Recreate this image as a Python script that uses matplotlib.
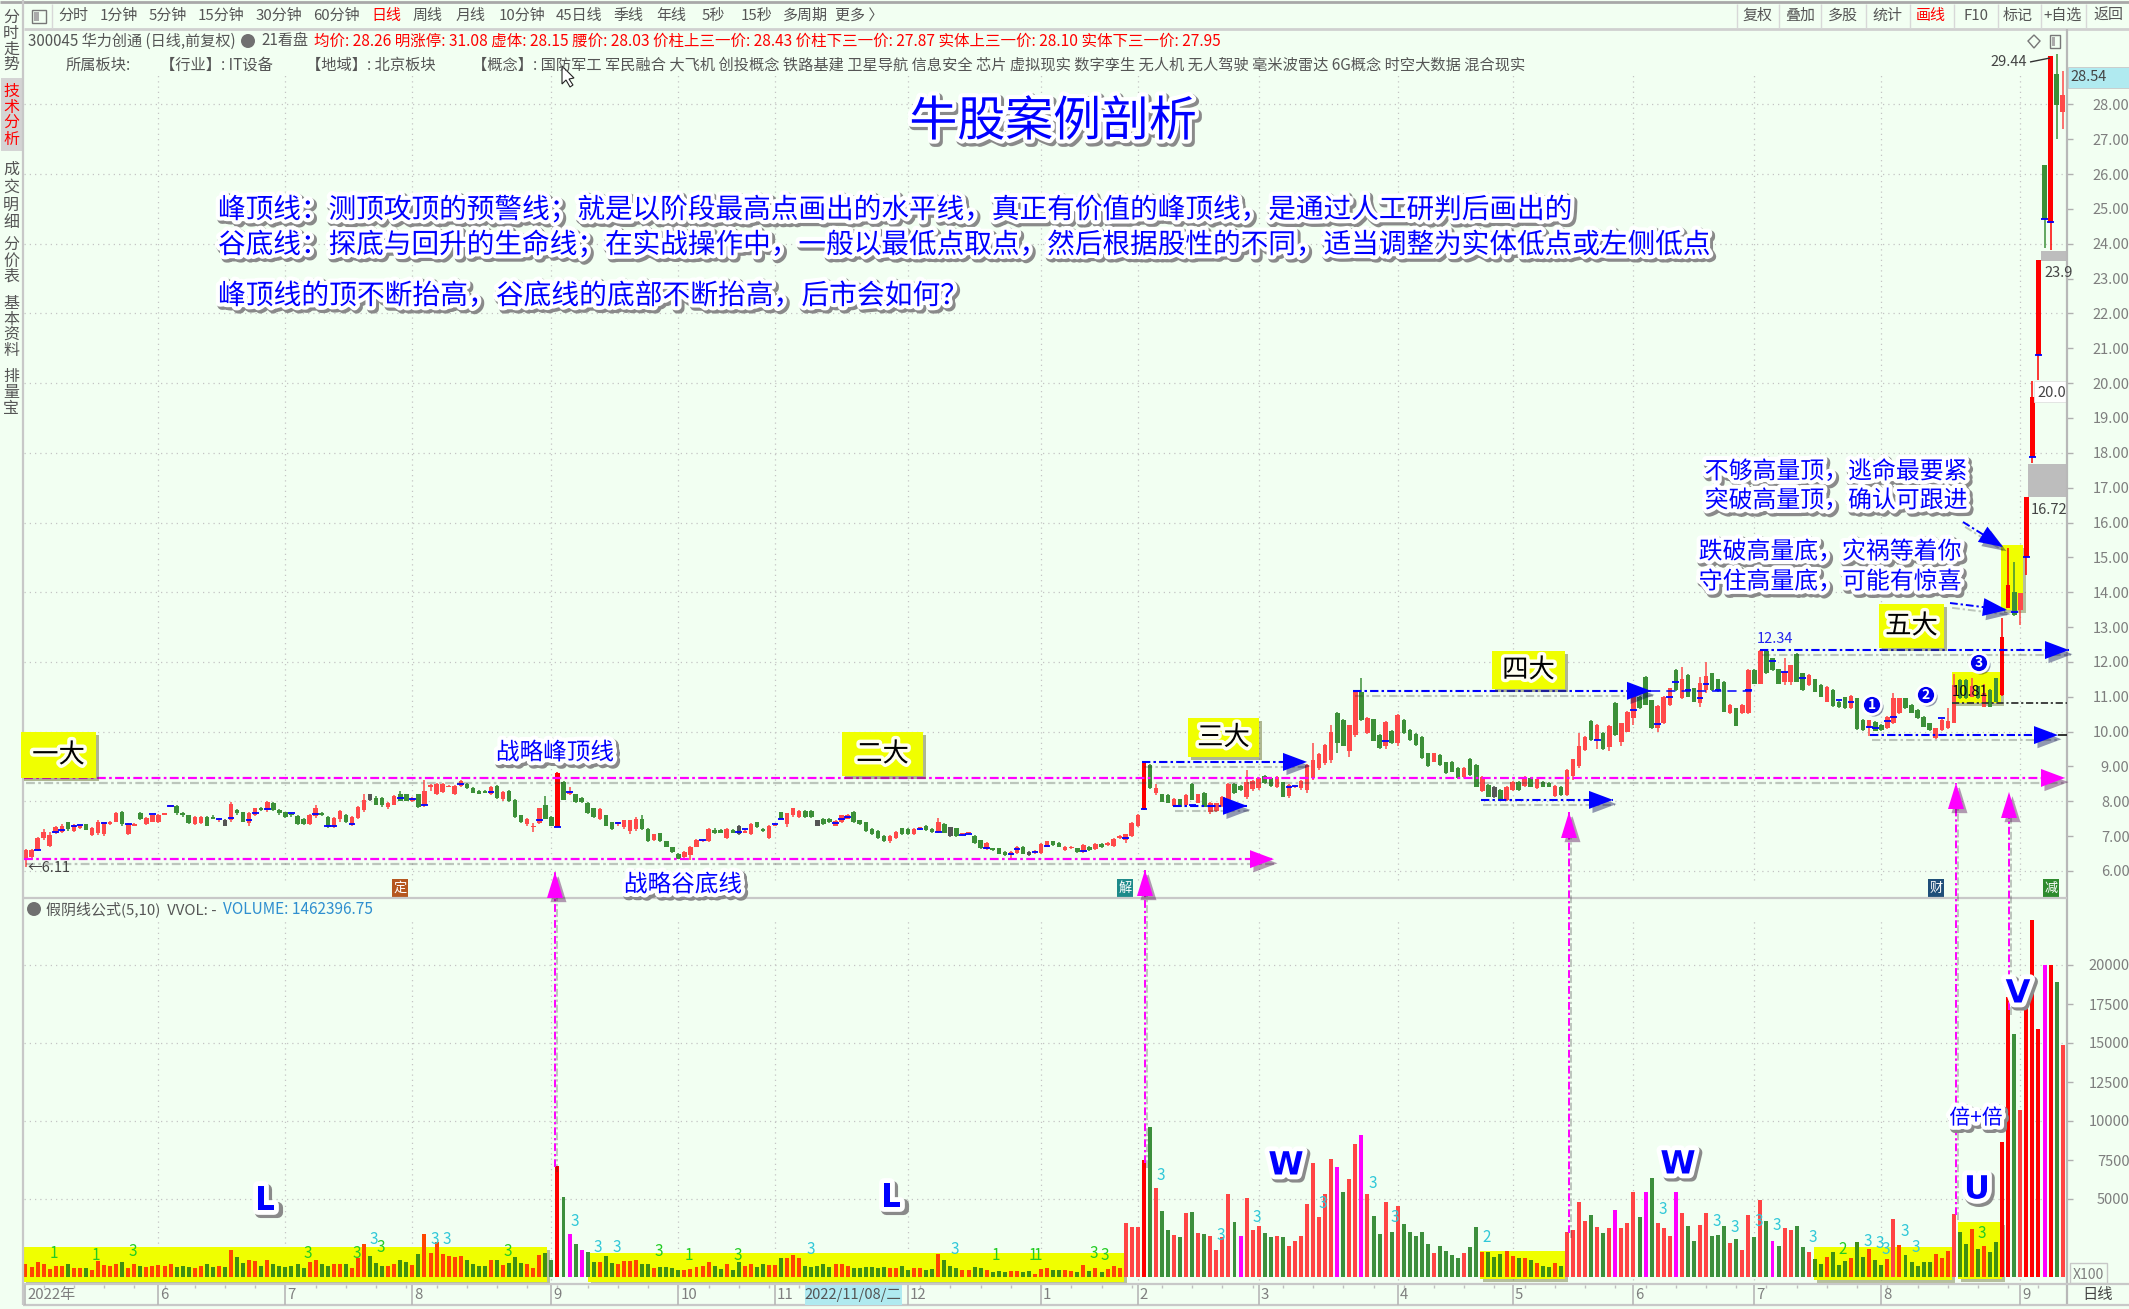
import matplotlib
matplotlib.use("Agg")
import matplotlib.pyplot as plt
import matplotlib.patheffects as pe
from matplotlib.patches import Rectangle, Polygon, Circle

plt.rcParams['font.family'] = ['Noto Sans CJK SC', 'DejaVu Sans']

# ---- daily candles (open, high, low, close), one small list per month
ohlc_2022_05 = [(6.36,6.62,6.11,6.60),(6.40,6.62,6.35,6.60),(6.60,6.97,6.58,6.94),(6.95,7.20,6.90,7.13),(6.72,7.12,6.70,7.03),(7.08,7.30,7.05,7.27),(7.12,7.35,7.08,7.30),(7.40,7.42,7.15,7.20),(7.15,7.34,7.13,7.32),(7.22,7.33,7.20,7.32),(7.35,7.36,7.18,7.19),(7.03,7.25,7.00,7.22),(7.10,7.45,7.02,7.42),(7.05,7.42,7.00,7.40),(7.35,7.44,7.33,7.42),(7.42,7.68,7.40,7.66),(7.70,7.72,7.30,7.36),(7.05,7.37,7.03,7.35),(7.30,7.38,7.28,7.36),(7.66,7.68,7.46,7.48),(7.35,7.54,7.33,7.52),(7.42,7.62,7.40,7.60)]
ohlc_2022_06 = [(7.40,7.64,7.38,7.62),(7.62,7.66,7.60,7.64),(7.85,7.88,7.83,7.86),(7.86,7.88,7.62,7.65),(7.65,7.68,7.55,7.60),(7.60,7.62,7.36,7.38),(7.36,7.58,7.32,7.56),(7.38,7.58,7.34,7.56),(7.55,7.58,7.28,7.30),(7.55,7.62,7.48,7.50),(7.47,7.52,7.40,7.50),(7.45,7.48,7.28,7.30),(7.47,7.98,7.42,7.92),(7.75,7.78,7.62,7.65),(7.68,7.70,7.40,7.42),(7.38,7.68,7.30,7.66),(7.62,7.82,7.58,7.80),(7.82,7.84,7.72,7.75),(7.76,8.00,7.70,7.98),(7.95,7.97,7.73,7.75),(7.75,7.78,7.62,7.65)]
ohlc_2022_07 = [(7.68,7.70,7.52,7.55),(7.62,7.65,7.55,7.60),(7.58,7.60,7.33,7.35),(7.50,7.52,7.33,7.35),(7.35,7.64,7.33,7.62),(7.58,7.90,7.52,7.82),(7.66,7.68,7.58,7.60),(7.55,7.57,7.22,7.25),(7.25,7.54,7.22,7.52),(7.50,7.76,7.42,7.72),(7.62,7.64,7.38,7.40),(7.33,7.57,7.28,7.55),(7.52,7.87,7.50,7.85),(7.76,8.20,7.70,8.05),(8.20,8.22,8.00,8.03),(8.10,8.15,7.88,7.90),(8.10,8.12,7.85,7.90),(7.85,7.97,7.78,7.95),(7.90,8.17,7.88,8.15),(8.20,8.30,8.00,8.02),(8.20,8.22,8.00,8.02)]
ohlc_2022_08 = [(8.00,8.12,7.98,8.10),(8.20,8.22,7.82,7.85),(7.90,8.60,7.85,8.30),(8.42,8.50,8.30,8.48),(8.22,8.52,8.18,8.50),(8.28,8.52,8.25,8.50),(8.42,8.47,8.40,8.45),(8.22,8.47,8.18,8.45),(8.45,8.62,8.42,8.58),(8.50,8.52,8.36,8.38),(8.38,8.40,8.23,8.25),(8.30,8.32,8.20,8.22),(8.30,8.32,8.23,8.25),(8.22,8.44,8.18,8.42),(8.45,8.47,8.08,8.10),(8.08,8.29,8.00,8.27),(8.30,8.32,7.98,8.00),(8.05,8.07,7.53,7.55),(7.60,7.62,7.38,7.40),(7.35,7.52,7.30,7.50),(7.25,7.38,7.12,7.30),(7.38,7.82,7.35,7.80),(7.90,8.15,7.48,7.50)]
ohlc_2022_09 = [(7.55,7.57,7.28,7.30),(7.27,8.83,7.25,8.80),(8.55,8.57,8.03,8.05),(8.22,8.40,8.18,8.25),(8.20,8.22,7.96,7.98),(8.10,8.12,7.96,7.98),(7.95,7.97,7.63,7.65),(7.80,7.82,7.53,7.55),(7.50,7.80,7.45,7.78),(7.60,7.62,7.28,7.30),(7.40,7.42,7.18,7.20),(7.35,7.42,7.30,7.40),(7.25,7.47,7.20,7.45),(7.15,7.47,7.05,7.45),(7.20,7.56,7.15,7.50),(7.50,7.60,7.18,7.20),(7.20,7.22,6.83,6.85),(6.90,7.07,6.85,7.05),(7.08,7.10,6.83,6.85),(6.85,6.87,6.68,6.70),(6.68,6.70,6.53,6.55)]
ohlc_2022_10 = [(6.50,6.52,6.33,6.35),(6.40,6.57,6.35,6.55),(6.45,6.72,6.32,6.70),(6.70,6.92,6.68,6.90),(6.85,6.90,6.83,6.88),(6.85,7.22,6.83,7.20),(7.18,7.22,7.06,7.08),(7.18,7.20,7.08,7.10),(6.95,7.22,6.92,7.20),(7.18,7.20,7.08,7.10),(7.30,7.32,7.03,7.05),(7.10,7.20,7.08,7.15),(7.05,7.37,7.02,7.35),(7.40,7.42,7.23,7.25),(7.20,7.24,7.13,7.15),(6.95,7.32,6.92,7.30)]
ohlc_2022_11 = [(7.30,7.37,7.28,7.33),(7.68,7.70,7.48,7.50),(7.35,7.67,7.25,7.65),(7.60,7.82,7.55,7.80),(7.55,7.74,7.52,7.72),(7.72,7.75,7.53,7.55),(7.72,7.75,7.53,7.55),(7.45,7.47,7.28,7.30),(7.50,7.52,7.33,7.35),(7.50,7.52,7.38,7.40),(7.30,7.45,7.28,7.43),(7.40,7.62,7.38,7.60),(7.50,7.64,7.48,7.60),(7.70,7.72,7.38,7.40),(7.45,7.47,7.33,7.35),(7.40,7.42,7.13,7.15),(7.20,7.22,7.03,7.05),(7.15,7.17,6.93,6.95),(7.00,7.02,6.83,6.85),(6.85,7.02,6.80,7.00),(6.95,7.14,6.93,7.12),(7.22,7.24,7.03,7.05)]
ohlc_2022_12 = [(7.20,7.22,7.03,7.05),(7.05,7.22,7.03,7.20),(7.22,7.27,7.18,7.25),(7.30,7.32,7.16,7.18),(7.20,7.22,7.10,7.12),(7.13,7.52,7.10,7.40),(7.35,7.37,7.08,7.10),(7.25,7.27,6.98,7.00),(7.22,7.24,6.98,7.00),(7.05,7.10,7.03,7.08),(7.08,7.12,7.06,7.10),(7.00,7.02,6.78,6.80),(6.88,6.90,6.63,6.65),(6.63,6.82,6.61,6.80),(6.65,6.67,6.58,6.60),(6.65,6.67,6.48,6.50),(6.55,6.57,6.43,6.45),(6.45,6.57,6.38,6.55),(6.52,6.72,6.50,6.70),(6.70,6.72,6.48,6.50),(6.55,6.57,6.43,6.45),(6.55,6.60,6.50,6.57)]
ohlc_2023_01 = [(6.52,6.80,6.50,6.78),(6.70,6.87,6.68,6.85),(6.85,6.87,6.73,6.75),(6.80,6.82,6.68,6.70),(6.60,6.72,6.58,6.70),(6.65,6.72,6.63,6.70),(6.65,6.67,6.53,6.55),(6.55,6.77,6.53,6.75),(6.70,6.72,6.58,6.60),(6.62,6.80,6.60,6.78),(6.78,6.80,6.66,6.68),(6.75,6.82,6.73,6.80),(6.72,6.94,6.70,6.92),(6.95,7.02,6.93,7.00),(6.90,7.07,6.80,7.05),(7.00,7.40,6.98,7.38)]
ohlc_2023_02 = [(7.28,7.64,7.26,7.62),(7.78,9.09,7.76,9.09),(9.04,9.06,8.35,8.37),(8.23,8.50,8.18,8.37),(8.20,8.22,7.97,7.99),(8.18,8.20,7.94,7.96),(7.87,8.09,7.85,8.07),(8.06,8.08,7.83,7.85),(7.89,8.20,7.87,8.18),(8.50,8.52,8.03,8.05),(7.96,8.22,7.94,8.20),(8.25,8.27,7.83,7.85),(7.70,7.99,7.63,7.95),(7.73,7.96,7.68,7.94),(7.87,8.15,7.85,8.13),(7.99,8.52,7.97,8.50),(8.50,8.52,8.21,8.23),(8.45,8.47,8.30,8.33),(8.13,8.90,8.08,8.56),(8.34,8.61,8.30,8.59)]
ohlc_2023_03 = [(8.37,8.68,8.32,8.66),(8.73,8.75,8.50,8.52),(8.66,8.68,8.42,8.44),(8.42,8.72,8.38,8.70),(8.54,8.56,8.11,8.13),(8.15,8.49,8.10,8.47),(8.40,8.45,8.38,8.43),(8.37,8.61,8.33,8.59),(8.32,9.06,8.25,9.04),(8.66,9.68,8.60,9.19),(8.95,9.38,8.90,9.36),(9.09,9.63,9.05,9.61),(9.18,10.19,9.10,10.00),(10.54,10.56,9.40,9.66),(10.33,10.35,9.58,9.60),(9.45,10.19,9.28,10.19),(9.90,11.15,9.85,11.15),(11.15,11.55,10.31,10.33),(9.95,10.42,9.93,10.40),(10.35,10.37,9.72,9.74),(9.90,9.92,9.50,9.52),(9.59,10.30,9.50,10.28),(10.03,10.05,9.64,9.66)]
ohlc_2023_04 = [(9.66,10.50,9.60,10.48),(10.33,10.35,9.93,9.95),(10.05,10.07,9.74,9.76),(9.93,9.95,9.60,9.62),(9.85,9.87,9.21,9.23),(9.38,9.40,8.99,9.01),(9.14,9.40,9.12,9.38),(9.33,9.35,9.02,9.04),(9.12,9.14,8.78,8.80),(9.14,9.16,8.83,8.85),(8.95,8.97,8.64,8.66),(8.70,8.97,8.68,8.95),(9.21,9.23,8.73,8.75),(9.04,9.06,8.40,8.42),(8.30,8.72,8.28,8.70),(8.47,8.49,8.11,8.13),(8.42,8.44,8.09,8.11),(8.32,8.34,8.02,8.04),(8.04,8.44,8.02,8.42)]
ohlc_2023_05 = [(8.32,8.58,8.30,8.56),(8.56,8.58,8.30,8.32),(8.44,8.72,8.42,8.70),(8.68,8.70,8.40,8.42),(8.37,8.65,8.35,8.63),(8.56,8.58,8.40,8.42),(8.52,8.54,8.40,8.42),(8.15,8.46,8.13,8.44),(8.42,8.44,8.16,8.18),(8.18,8.92,8.15,8.90),(8.73,9.22,8.60,9.20),(9.01,9.97,8.95,9.60),(9.47,9.86,9.45,9.84),(10.30,10.32,9.74,9.76),(9.76,10.21,9.50,10.19),(9.97,9.99,9.47,9.49),(9.57,10.18,9.45,10.16),(10.83,10.85,9.88,9.90),(9.71,10.26,9.60,10.24),(10.00,10.59,9.98,10.57)]
ohlc_2023_06 = [(10.38,11.12,10.20,11.10),(11.00,11.02,10.65,10.67),(11.58,11.60,10.75,10.77),(10.90,10.92,10.07,10.09),(10.09,10.75,10.00,10.73),(10.24,11.02,10.22,11.00),(10.76,11.26,10.74,11.24),(11.77,11.79,11.17,11.19),(10.95,11.86,10.93,11.50),(11.62,11.64,10.98,11.00),(11.24,11.26,10.84,10.86),(10.81,11.58,10.70,11.40),(11.20,12.00,11.10,11.60),(11.67,11.69,11.17,11.19),(11.50,11.52,11.15,11.18),(11.43,11.45,10.55,10.57),(10.52,10.78,10.50,10.76),(10.67,10.69,10.15,10.17),(10.52,10.78,10.50,10.76),(10.52,11.79,10.50,11.77)]
ohlc_2023_07 = [(11.77,11.79,11.36,11.38),(11.38,12.34,11.36,12.30),(12.30,12.34,11.65,11.67),(12.10,12.12,11.75,11.77),(11.79,11.81,11.36,11.38),(11.43,12.12,11.35,11.70),(11.43,11.92,11.35,11.90),(12.23,12.25,11.41,11.43),(11.67,11.69,11.17,11.19),(11.34,11.64,11.32,11.62),(11.50,11.52,11.13,11.15),(11.34,11.36,10.98,11.00),(10.86,11.31,10.84,11.29),(11.19,11.21,10.72,10.74),(10.86,10.88,10.69,10.71),(10.98,11.00,10.65,10.67),(10.67,11.04,10.65,11.02),(10.95,10.97,10.05,10.07),(10.33,10.35,10.03,10.05),(10.09,10.33,9.87,10.33),(10.28,10.30,10.01,10.03)]
ohlc_2023_08 = [(10.20,10.22,10.03,10.05),(10.09,10.45,10.07,10.43),(10.24,11.10,10.22,10.95),(10.52,10.97,10.50,10.95),(10.95,10.97,10.65,10.67),(10.76,10.78,10.52,10.54),(10.62,10.64,10.36,10.38),(10.43,10.45,10.12,10.14),(10.24,10.26,10.03,10.05),(9.81,10.11,9.79,10.09),(10.05,10.35,10.03,10.33),(10.09,10.69,10.07,10.30),(10.26,11.64,10.24,11.35),(11.48,11.50,10.93,10.95),(11.48,11.50,10.93,10.95),(11.00,11.55,10.98,11.30),(11.30,11.32,10.93,10.95),(10.72,11.36,10.70,11.10),(11.19,11.21,10.70,10.72),(11.53,11.55,10.84,10.86),(11.05,13.26,11.03,12.71),(13.55,15.27,13.55,14.20),(14.00,14.87,13.32,13.35)]
ohlc_2023_09 = [(13.49,13.98,13.06,13.98),(15.00,16.73,14.50,16.73),(17.88,20.06,17.70,19.60),(20.80,23.53,20.09,23.53),(26.26,26.26,23.87,24.70),(24.60,29.40,23.82,29.40),(28.87,29.44,27.00,27.98),(27.78,28.95,27.30,28.27)]

# ---- daily volume (x100), one small list per month
vol_2022_05 = [855,640,940,855,535,685,685,815,600,555,555,430,1005,770,730,855,965,600,855,730,620,685]
vol_2022_06 = [770,685,815,640,730,640,600,685,815,640,685,640,1755,1285,900,1110,1025,730,1110,815,705]
vol_2022_07 = [640,730,815,555,940,1110,815,730,855,855,815,600,1240,2140,1370,900,730,685,855,1110,940]
vol_2022_08 = [770,1455,2780,1540,2225,1500,1370,1285,1370,1110,815,730,730,1110,1110,770,900,1285,900,855,600,1410,1540]
vol_2022_09 = [1110,7105,5135,2740,2140,1755,1625,940,985,1370,900,855,1025,1025,1110,815,855,600,640,640,555]
vol_2022_10 = [470,430,515,640,685,940,730,515,815,430,965,730,855,640,815,770]
vol_2022_11 = [770,1200,1240,1410,1240,730,640,730,815,640,815,855,730,600,555,640,640,600,640,555,555,730]
vol_2022_12 = [470,600,600,470,515,1500,1110,730,555,470,470,640,555,430,340,385,300,365,365,320,385,215]
vol_2023_01 = [515,555,430,470,470,385,300,770,385,555,300,515,685,555,3465,3210]
vol_2023_02 = [3210,7490,9630,5735,4235,2995,2675,2570,4110,4175,2825,2780,2610,1710,2570,5305,3530,2650,5095,3040]
vol_2023_03 = [3250,2825,2570,2610,2570,1970,2290,2610,4665,7320,3850,5305,7575,7020,5435,6290,8515,9115,5305,3940,2740,4835,2870]
vol_2023_04 = [4535,3425,2890,2610,2890,2100,1540,1990,1670,1435,1220,1540,1925,3210,1625,1605,1285,1500,1650]
vol_2023_05 = [1325,1200,1240,1110,900,705,640,900,705,2890,2995,4815,3575,4000,3210,2845,3165,4320,3165,3490]
vol_2023_06 = [5455,3850,5455,6375,3465,3165,2610,5455,4110,3275,2310,3315,4110,2630,2720,3275,2180,2460,1710,3960]
vol_2023_07 = [2570,4920,3595,2310,1990,3165,2995,3275,1925,1605,1175,855,1285,1605,770,1025,1240,2225,1285,1820,1110]
vol_2023_08 = [770,1175,3745,2030,1435,965,705,965,965,1500,1240,1670,4065,2890,2140,3100,1820,1970,1605,2245,8625,17975,15580]
vol_2023_09 = [10700,17440,22900,15900,20010,20010,18940,14870]

month_ohlc = [ohlc_2022_05,ohlc_2022_06,ohlc_2022_07,ohlc_2022_08,ohlc_2022_09,ohlc_2022_10,ohlc_2022_11,ohlc_2022_12,ohlc_2023_01,ohlc_2023_02,ohlc_2023_03,ohlc_2023_04,ohlc_2023_05,ohlc_2023_06,ohlc_2023_07,ohlc_2023_08,ohlc_2023_09]
month_vol = [vol_2022_05,vol_2022_06,vol_2022_07,vol_2022_08,vol_2022_09,vol_2022_10,vol_2022_11,vol_2022_12,vol_2023_01,vol_2023_02,vol_2023_03,vol_2023_04,vol_2023_05,vol_2023_06,vol_2023_07,vol_2023_08,vol_2023_09]
month_labels = ['2022年','6','7','8','9','10','11','12','1','2','3','4','5','6','7','8','9']

limit_up_days = [88,185,327,328,331,332,333,335]
dark_days = [33,57,118,131,153,166,243]
magenta_vol_days = [90,92,201,217,221,263,268,273,289,334]
blue_marks = [(2,6.60),(5,7.11),(6,7.18),(8,7.30),(9,7.32),(13,7.39),(17,7.35),(21,7.63),(24,7.86),(32,7.48),(34,7.53),(37,7.46),(38,7.67),(40,7.78),(44,7.65),(48,7.63),(50,7.30),(51,7.30),(54,7.35),(62,8.10),(64,8.08),(66,7.88),(72,8.50),(77,8.28),(85,7.46),(88,7.27),(90,8.28),(98,7.39),(112,6.89),(118,7.13),(119,7.20),(124,7.35),(125,7.49),(134,7.39),(135,7.48),(136,7.56),(148,7.20),(151,7.13),(155,7.03),(156,7.06),(159,6.67),(163,6.50),(164,6.63),(167,6.55),(169,6.73),(175,6.57),(182,6.96),(185,7.77),(193,7.90),(199,7.82),(209,8.40),(210,8.43),(225,9.72),(260,9.76),(266,10.62),(270,10.22),(272,11.0),(273,11.42),(275,11.18),(277,10.95),(278,11.38),(280,11.18),(285,11.18),(289,12.02),(291,11.70),(294,11.55),(300,10.90),(302,10.85),(305,10.14),(306,10.10),(308,10.30),(309,10.42),(317,10.40),(329,13.42),(331,15.00),(332,17.88),(333,20.82),(334,24.72),(335,24.62)]

W, H = 2129, 1309
BG = '#f2fff2'
GREY = '#7e7e7e'
XI0, XSTEP = 25.5, 6.045
PY6, PSCALE = 871.0, 34.85
VY0, VSCALE = 1277.0, 0.0156

def px(i): return XI0 + XSTEP * i
def py(p): return PY6 - (p - 6) * PSCALE
def rect_of(x0, y0, x1, y1): return [x0 / W, 1 - y1 / H, (x1 - x0) / W, (y1 - y0) / H]

ohlc = [row for m in month_ohlc for row in m]
vol = [v for m in month_vol for v in m]
assert len(ohlc) == len(vol), (len(ohlc), len(vol))
month_starts = []
n = 0
for m in month_ohlc:
    month_starts.append(n)
    n += len(m)

fig = plt.figure(figsize=(W / 100, H / 100), dpi=100, facecolor=BG)
AX_L, AX_R = 24, 2067
ax_p = fig.add_axes(rect_of(AX_L, 30, AX_R, 898), facecolor=BG)
ax_v = fig.add_axes(rect_of(AX_L, 898, AX_R, 1283), facecolor=BG)
ov = fig.add_axes([0, 0, 1, 1], facecolor='none', zorder=10)
ov.set_xlim(0, W); ov.set_ylim(H, 0); ov.axis('off')

xlim = ((AX_L - XI0) / XSTEP, (AX_R - XI0) / XSTEP)
ax_p.set_xlim(*xlim); ax_v.set_xlim(*xlim)
ax_p.set_ylim(6 + (PY6 - 898) / PSCALE, 6 + (PY6 - 30) / PSCALE)
ax_v.set_ylim((VY0 - 1283) / VSCALE, (VY0 - 898) / VSCALE)

for a in (ax_p, ax_v):
    for s in a.spines.values():
        s.set_visible(False)
    a.set_xticks([])
    a.yaxis.tick_right()
    a.tick_params(axis='y', length=4, width=1, color='#b0b0b0', labelcolor=GREY, labelsize=10.5, pad=41)

dot = (0, (1, 3.2))
ax_p.set_yticks(list(range(6, 29)))
ax_p.set_yticklabels([f'{p}.00' for p in range(6, 29)])
ax_v.set_yticks([5000, 7500, 10000, 12500, 15000, 17500, 20000])
ax_v.set_yticklabels(['5000', '7500', '10000', '12500', '15000', '17500', '20000'])
for a in (ax_p, ax_v):
    for t in a.get_yticklabels():
        t.set_horizontalalignment('right')

# grid
ax_p.hlines(range(6, 29, 2), *xlim, colors='#c4c4c4', linewidth=0.9, linestyles=[dot], zorder=0)
ax_v.hlines([5000, 10000, 15000, 20000], *xlim, colors='#c4c4c4', linewidth=0.9, linestyles=[dot], zorder=0)
ax_p.vlines(month_starts[1:], 6 + (PY6 - 880) / PSCALE, 6 + (PY6 - 72) / PSCALE, colors='#c4c4c4', linewidth=0.9, linestyles=[dot], zorder=0)
ax_v.vlines(month_starts[1:], -190, 22800, colors='#c4c4c4', linewidth=0.9, linestyles=[dot], zorder=0)

YEL = '#f0ff00'
def under_rect(a, x0, y0, x1, y1):
    r = Rectangle((x0, y0), x1 - x0, y1 - y0, facecolor=YEL, edgecolor='none', transform=ov.transData, zorder=0.5, clip_on=False)
    r.set_path_effects([pe.withSimplePatchShadow(offset=(2, -2), alpha=0.35)])
    a.add_patch(r)

vol_zones = [(23, 1247, 547, 1282), (588, 1253, 1124, 1282), (1480, 1251, 1565, 1279), (1814, 1247, 1952, 1280), (1958, 1222, 2002, 1279)]
for z in vol_zones:
    under_rect(ax_v, *z)
under_rect(ax_p, 1952, 672, 2001, 703)
under_rect(ax_p, 2001, 545, 2023, 610)

# candles
RED, GREEN, PURE = '#ff4a4a', '#3c9038', '#ff0000'
for i, (o, h, l, c) in enumerate(ohlc):
    col = RED if c >= o else GREEN
    if i in limit_up_days:
        col = PURE
    if i in dark_days:
        col = '#555555'
    ax_p.vlines(i, l, h, colors=col, linewidth=1.1, zorder=2)
    ax_p.bar(i, max(abs(c - o), 0.03), bottom=min(o, c), width=0.74, color=col, linewidth=0, zorder=3)
ax_p.hlines([m[1] for m in blue_marks], [m[0] - 0.55 for m in blue_marks], [m[0] + 0.55 for m in blue_marks], colors='#0000ff', linewidth=1.3, zorder=4)

# volume
in_zone = lambda x: any(z[0] <= x <= z[2] for z in vol_zones)
for i, ((o, h, l, c), v) in enumerate(zip(ohlc, vol)):
    up = c >= o
    col = '#ff4444' if up else '#3c8f3c'
    if i in limit_up_days:
        col = PURE
    if i in magenta_vol_days:
        col = '#ff00ff'
    elif in_zone(px(i)) and v < 3500:
        col = '#ff4500' if up else '#3f8f10'
    ax_v.bar(i, v, width=0.66, color=col, linewidth=0, zorder=3)

# ---- overlay: window chrome
def ln(xs, ys, c='#c8c8c8', lw=1.2, **k):
    ov.plot(xs, ys, color=c, lw=lw, solid_capstyle='butt', **k)
def txt(x, y, s, size=10.5, color=GREY, ha='center', va='center', **k):
    return ov.text(x, y, s, fontsize=size, color=color, ha=ha, va=va, **k)

ln([0, W], [2, 2], '#a8a8a8', 2)
ln([24, W], [29, 29], '#d0d0d0', 2)
ln([23, 23], [0, 1305], '#c8c8c8', 1.6)
ln([AX_R, AX_R], [29, 1305], '#b8b8b8', 1.6)
ln([23, AX_R], [898, 898], '#c8c8c8', 1.6)
ln([23, W], [1284, 1284], '#c8c8c8', 1.6)
ln([23, W], [1305, 1305], '#c8c8c8', 1.6)
ov.add_patch(Rectangle((1, 78), 21, 73, facecolor='#d4d4d4', edgecolor='none'))

toolbar_left = [('分时',73),('1分钟',119),('5分钟',168),('15分钟',221),('30分钟',279),('60分钟',336),('日线',386),('周线',428),('月线',471),('10分钟',522),('45日线',579),('季线',628),('年线',671),('5秒',713),('15秒',756),('多周期',805),('更多 〉',859)]
for s, x in toolbar_left:
    txt(x, 16, s, 10.8, 'red' if s == '日线' else '#555555')
toolbar_right = [('复权',1757),('叠加',1800),('多股',1843),('统计',1887),('画线',1931),('F10',1976),('标记',2018),('+自选',2063),('返回',2108)]
for s, x in toolbar_right:
    txt(x, 16, s, 10.8, 'red' if s == '画线' else '#555555')
for x in [1737, 1779, 1821, 1866, 1910, 1954, 1998, 2041, 2086]:
    ln([x, x], [4, 28], '#d8d8d8', 1)
ln([52, 52], [4, 28], '#d8d8d8', 1)
ov.add_patch(Rectangle((32, 10), 14, 13, facecolor='none', edgecolor='#777777', lw=1))
ov.add_patch(Rectangle((34, 12), 5, 9, facecolor='#aaaaaa', edgecolor='none'))
ov.add_patch(Rectangle((2050, 35), 10, 13, facecolor='none', edgecolor='#777777', lw=1))
ov.add_patch(Rectangle((2052, 37), 3, 9, facecolor='#aaaaaa', edgecolor='none'))
ov.add_patch(Polygon([(2034, 35), (2040, 41), (2034, 48), (2028, 41)], closed=True, facecolor='none', edgecolor='#777777', lw=1))

tabs = [('分时走势', 11, 72, '#555555'), ('技术分析', 83, 148, 'red'), ('成交明细', 160, 232, '#555555'), ('分价表', 238, 284, '#555555'), ('基本资料', 296, 358, '#555555'), ('排量宝', 368, 416, '#555555')]
for s, y0, y1, c in tabs:
    step = (y1 - y0) / len(s)
    for k, ch in enumerate(s):
        txt(11, y0 + step * (k + 0.5), ch, 11.5, c)

txt(28, 41, '300045 华力创通 (日线,前复权)', 10.9, '#555555', ha='left')
ov.add_patch(Circle((248, 41), 7, facecolor='#707070', edgecolor='none'))
txt(261, 41, '21看盘', 10.9, '#555555', ha='left')
txt(314, 41, '均价: 28.26 明涨停: 31.08 虚体: 28.15 腰价: 28.03 价柱上三一价: 28.43 价柱下三一价: 27.87 实体上三一价: 28.10 实体下三一价: 27.95', 11.15, 'red', ha='left')
txt(66, 65, '所属板块:', 11, '#555555', ha='left')
txt(160, 65, '【行业】: IT设备', 11, '#555555', ha='left')
txt(306, 65, '【地域】: 北京板块', 11, '#555555', ha='left')
txt(472, 65, '【概念】: 国防军工 军民融合 大飞机 创投概念 铁路基建 卫星导航 信息安全 芯片 虚拟现实 数字孪生 无人机 无人驾驶 毫米波雷达 6G概念 时空大数据 混合现实', 10.95, '#555555', ha='left')
ov.add_patch(Polygon([(562, 66), (562, 84), (566, 80), (570, 87), (573, 85), (569, 79), (574, 78)], closed=True, facecolor='white', edgecolor='#222222', lw=0.8))

# date axis
for i, s in zip(month_starts, month_labels):
    x = px(i) if i else 25
    ln([x, x], [1285, 1305], '#b8b8b8', 1.2)
    txt(x + 2, 1295, s, 10.8, GREY, ha='left')
for i in range(3, len(ohlc), 5):
    ln([px(i), px(i)], [1285, 1288], '#c0c0c0', 1)
ov.add_patch(Rectangle((805, 1285), 97, 20, facecolor='#b0eaf0', edgecolor='none', zorder=5))
txt(853, 1295, '2022/11/08/二', 10.5, '#555555', zorder=6)
txt(2098, 1295, '日线', 11, '#444444')
ov.add_patch(Rectangle((2070, 1263), 37, 20, facecolor=BG, edgecolor='#c8c8c8', lw=1))
txt(2088, 1275, 'X100', 10, GREY)

# right side price boxes
ov.add_patch(Rectangle((2068, 67), 61, 21, facecolor='#b0eaf0', edgecolor='#c8c8c8', lw=0.6))
txt(2070, 77, '28.54', 10.5, '#444444', ha='left')
ov.add_patch(Rectangle((2028, 464), 39, 33, facecolor='#bdbdbd', edgecolor='none'))
ov.add_patch(Rectangle((2041, 251), 26, 10, facecolor='#bdbdbd', edgecolor='none'))
ov.add_patch(Rectangle((2034, 381), 33, 21, facecolor='white', edgecolor='#e0e0e0', lw=0.6))
txt(2037, 393, '20.0', 10.5, '#444444', ha='left')
txt(2044, 273, '23.9', 10.5, '#444444', ha='left')
txt(2031, 510, '16.72', 10.5, '#444444', ha='left')
txt(2027, 62, '29.44', 10.5, '#444444', ha='right')
ln([2030, 2050], [62, 58], '#333333', 1)
txt(1775, 639, '12.34', 10.5, '#2222ee')
txt(27, 868, '←6.11', 10.5, '#444444', ha='left')
txt(1970, 692, '10.81', 10.5, '#111111')

badges = [('定', 400, '#b5561f'), ('解', 1125, '#1d8a8a'), ('财', 1936, '#1f4e79'), ('减', 2051, '#2e8b2e')]
for s, x, c in badges:
    ov.add_patch(Rectangle((x - 8, 879), 16, 18, facecolor=c, edgecolor='none'))
    txt(x, 888, s, 9.5, 'white')

# ---- annotation lines
shadow = [pe.SimpleLineShadow(offset=(1.5, -3.5), alpha=0.28, shadow_color='#333333'), pe.Normal()]
dashdot = (0, (4, 1.5, 1.2, 1.5))
def head(x, y, dx, dy, c, length=24, half=9):
    n_ = (dx * dx + dy * dy) ** 0.5
    ux, uy = dx / n_, dy / n_
    poly = Polygon([(x, y), (x - ux * length - uy * half, y - uy * length + ux * half), (x - ux * length + uy * half, y - uy * length - ux * half)], closed=True, facecolor=c, edgecolor='none', zorder=4)
    poly.set_path_effects([pe.withSimplePatchShadow(offset=(2.5, -3), alpha=0.4)])
    ov.add_patch(poly)
def arrow(x0, y0, x1, y1, c, lw=1.6, **k):
    ov.plot([x0, x1], [y0, y1], color=c, lw=lw, ls=dashdot, path_effects=shadow, zorder=3)
    head(x1, y1, x1 - x0, y1 - y0, c, **k)

MAG, BLU = '#ff00ff', '#0000ff'
arrow(24, py(8.67), 2065, py(8.67), MAG, 1.6)
arrow(24, py(6.34), 1274, py(6.34), MAG, 1.6)
for x, y0, y1 in [(555, 1167, 872), (1145, 1163, 870), (1569, 1233, 812), (1956, 1215, 783), (2009, 1010, 792)]:
    arrow(x, y0, x, y1, MAG, 1.4, length=26, half=8)
arrow(1142, py(9.13), 1307, py(9.13), BLU, 1.5)
arrow(1173, py(7.87), 1247, py(7.87), BLU, 1.5)
arrow(1353, py(11.17), 1651, py(11.17), BLU, 1.5)
ln([1651, 1753], [py(11.17), py(11.17)], BLU, 1.1, ls=(0, (6, 4)))
arrow(1481, py(8.04), 1613, py(8.04), BLU, 1.5)
arrow(1760, py(12.34), 2069, py(12.34), BLU, 1.5)
arrow(1870, py(9.90), 2058, py(9.90), BLU, 1.5)
ln([2058, 2067], [py(9.90), py(9.90)], '#222222', 1.3, ls=(0, (5, 2)))
ov.plot([1952, 2067], [py(10.82), py(10.82)], color='#333333', lw=1.3, ls=dashdot)
arrow(1963, 522, 2003, 547, BLU, 1.4)
arrow(1950, 603, 2007, 610, BLU, 1.4)

# ---- text callouts with halo
def halo(x, y, s, size, color='#0000ff', lw=6, halo_c='white', **k):
    t = ov.text(x, y, s, fontsize=size, color=color, ha=k.pop('ha', 'center'), va='center', zorder=8, **k)
    t.set_path_effects([pe.Stroke(linewidth=lw + 1, foreground='#8a8a8a', offset=(1.6, -1.8)), pe.Stroke(linewidth=lw, foreground=halo_c), pe.Normal()])
    return t

halo(1053, 122, '牛股案例剖析', 34.5)
halo(218, 210, '峰顶线：测顶攻顶的预警线；就是以阶段最高点画出的水平线，真正有价值的峰顶线，是通过人工研判后画出的', 19.9, ha='left')
halo(218, 245, '谷底线：探底与回升的生命线；在实战操作中，一般以最低点取点，然后根据股性的不同，适当调整为实体低点或左侧低点', 19.9, ha='left')
halo(218, 296, '峰顶线的顶不断抬高，谷底线的底部不断抬高，后市会如何？', 20, ha='left')
halo(555, 753, '战略峰顶线', 17)
halo(683, 885, '战略谷底线', 17)
halo(1836, 472, '不够高量顶，逃命最要紧', 17.2)
halo(1836, 501, '突破高量顶，确认可跟进', 17.2)
halo(1830, 552, '跌破高量底，灾祸等着你', 17.2)
halo(1830, 582, '守住高量底，可能有惊喜', 17.2)
halo(1976, 1118, '倍+倍', 15)
for s, x, y in [('L', 265, 1201), ('L', 891, 1198), ('W', 1286, 1166), ('W', 1678, 1165), ('V', 2018, 994), ('U', 1977, 1190)]:
    halo(x, y, s, 23, lw=7, fontweight='bold', family=['DejaVu Sans'])

for s, x0, y0, x1, y1, fs in [('一大', 21, 732, 96, 778, 19), ('二大', 842, 732, 923, 776, 19), ('三大', 1188, 718, 1259, 757, 19), ('四大', 1492, 651, 1565, 689, 19), ('五大', 1879, 604, 1944, 648, 19)]:
    r = Rectangle((x0, y0), x1 - x0, y1 - y0, facecolor=YEL, edgecolor='none', zorder=5)
    r.set_path_effects([pe.withSimplePatchShadow(offset=(2.5, -2.5), alpha=0.4)])
    ov.add_patch(r)
    t = ov.text((x0 + x1) / 2, (y0 + y1) / 2, s, fontsize=fs, color='black', ha='center', va='center', zorder=6)
    t.set_path_effects([pe.Stroke(linewidth=5, foreground='#fffff0'), pe.Normal()])

for s, x, y in [('1', 1872, 705), ('2', 1926, 695), ('3', 1979, 663)]:
    c = Circle((x, y), 9.5, facecolor='#0000ee', edgecolor='white', lw=2, zorder=7)
    c.set_path_effects([pe.withSimplePatchShadow(offset=(1.5, -1.5), alpha=0.4)])
    ov.add_patch(c)
    txt(x, y, s, 10, 'white', zorder=8, fontweight='bold')

# ---- small volume signal numbers
vol_signals = [('1',54,1253,0),('1',96,1255,0),('3',133,1252,0),('3',308,1253,0),('3',357,1253,0),('3',374,1240,1),('3',381,1248,0),('3',435,1239,1),('3',447,1240,1),('3',508,1251,0),('3',575,1221,1),('3',598,1247,1),('3',617,1248,1),('3',659,1252,0),('1',689,1256,0),('3',738,1255,0),('3',811,1250,1),('3',955,1250,1),('1',996,1256,0),('1',1033,1256,0),('1',1038,1256,0),('3',1094,1254,0),('3',1105,1256,0),('3',1161,1176,1),('3',1221,1235,1),('3',1257,1217,1),('3',1323,1203,1),('3',1373,1183,1),('3',1395,1217,1),('2',1487,1238,1),('3',1663,1210,1),('3',1717,1221,1),('3',1735,1228,1),('3',1759,1222,1),('3',1777,1226,1),('3',1813,1237,1),('2',1843,1250,0),('3',1868,1242,1),('3',1880,1243,1),('3',1886,1250,1),('3',1905,1231,1),('3',1916,1247,1),('3',1982,1233,0)]
for s, x, y, k in vol_signals:
    txt(x, y, s, 11, '#30c8d8' if k else '#22cc22', zorder=5)

# volume legend row
ov.add_patch(Circle((34, 909), 7, facecolor='#707070', edgecolor='none'))
txt(46, 909, '假阴线公式(5,10)  VVOL: -', 10.8, '#555555', ha='left')
txt(223, 909, 'VOLUME: 1462396.75', 11.1, '#2f8fd0', ha='left')

fig.savefig('out.png', dpi=100, facecolor=BG)
